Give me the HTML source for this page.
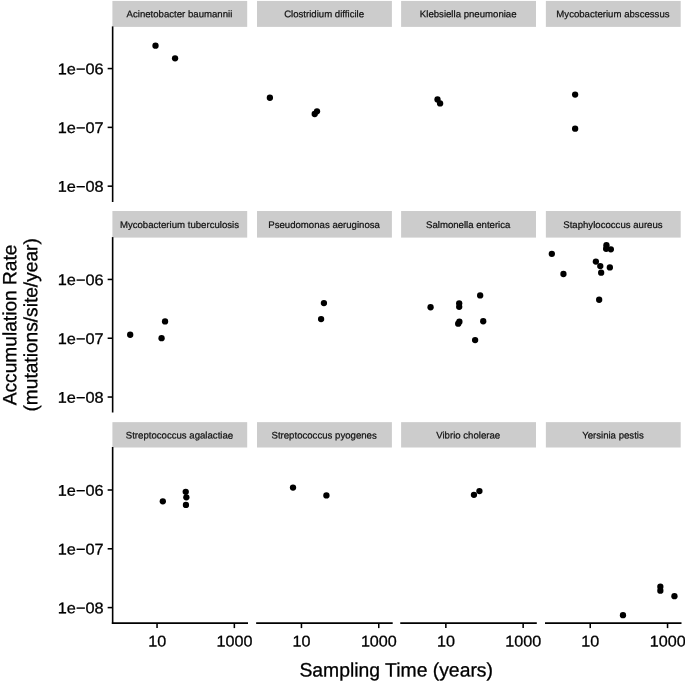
<!DOCTYPE html>
<html lang="en"><head><meta charset="utf-8"><title>Accumulation Rate vs Sampling Time</title>
<style>html,body{margin:0;padding:0;background:#fff}body{width:685px;height:681px;overflow:hidden}svg{display:block;will-change:transform}text{font-family:'Liberation Sans', sans-serif;text-rendering:geometricPrecision;fill:#000;stroke:#000;stroke-width:0.3px}.st{fill:#111;stroke:#111;stroke-width:0.22px}</style></head><body>
<svg role="img" aria-label="Accumulation rate versus sampling time, faceted by species" width="685" height="681" viewBox="0 0 685 681">
<rect width="685" height="681" fill="#fff"/>
<!-- row 1 -->
<rect x="112.40" y="0.92" width="134.80" height="25.98" fill="#cccccc"/>
<text class="st" transform="translate(179.45,17.20) rotate(0.03)" font-size="9.62" text-anchor="middle">Acinetobacter baumannii</text>
<rect x="257.00" y="0.92" width="134.90" height="25.98" fill="#cccccc"/>
<text class="st" transform="translate(324.10,17.20) rotate(0.03)" font-size="9.62" text-anchor="middle">Clostridium difficile</text>
<rect x="401.10" y="0.92" width="134.90" height="25.98" fill="#cccccc"/>
<text class="st" transform="translate(468.20,17.20) rotate(0.03)" font-size="9.62" text-anchor="middle">Klebsiella pneumoniae</text>
<rect x="545.85" y="0.92" width="134.85" height="25.98" fill="#cccccc"/>
<text class="st" transform="translate(612.93,17.20) rotate(0.03)" font-size="9.62" text-anchor="middle">Mycobacterium abscessus</text>
<line x1="112.65" y1="26.40" x2="112.65" y2="202.00" stroke="#000" stroke-width="1.60"/>
<line x1="107.65" y1="68.57" x2="112.65" y2="68.57" stroke="#000" stroke-width="1.55"/>
<text transform="translate(103.60,74.27) rotate(0.03) scale(1.020,0.970)" font-size="16" text-anchor="end">1e−06</text>
<line x1="107.65" y1="127.37" x2="112.65" y2="127.37" stroke="#000" stroke-width="1.55"/>
<text transform="translate(103.60,133.07) rotate(0.03) scale(1.020,0.970)" font-size="16" text-anchor="end">1e−07</text>
<line x1="107.65" y1="186.17" x2="112.65" y2="186.17" stroke="#000" stroke-width="1.55"/>
<text transform="translate(103.60,191.87) rotate(0.03) scale(1.020,0.970)" font-size="16" text-anchor="end">1e−08</text>
<!-- row 2 -->
<rect x="112.40" y="211.00" width="134.80" height="26.60" fill="#cccccc"/>
<text class="st" transform="translate(179.45,228.00) rotate(0.03)" font-size="9.62" text-anchor="middle">Mycobacterium tuberculosis</text>
<rect x="257.00" y="211.00" width="134.90" height="26.60" fill="#cccccc"/>
<text class="st" transform="translate(324.10,228.00) rotate(0.03)" font-size="9.62" text-anchor="middle">Pseudomonas aeruginosa</text>
<rect x="401.10" y="211.00" width="134.90" height="26.60" fill="#cccccc"/>
<text class="st" transform="translate(468.20,228.00) rotate(0.03)" font-size="9.62" text-anchor="middle">Salmonella enterica</text>
<rect x="545.85" y="211.00" width="134.85" height="26.60" fill="#cccccc"/>
<text class="st" transform="translate(612.93,228.00) rotate(0.03)" font-size="9.62" text-anchor="middle">Staphylococcus aureus</text>
<line x1="112.65" y1="237.10" x2="112.65" y2="412.50" stroke="#000" stroke-width="1.60"/>
<line x1="107.65" y1="279.44" x2="112.65" y2="279.44" stroke="#000" stroke-width="1.55"/>
<text transform="translate(103.60,285.14) rotate(0.03) scale(1.020,0.970)" font-size="16" text-anchor="end">1e−06</text>
<line x1="107.65" y1="338.24" x2="112.65" y2="338.24" stroke="#000" stroke-width="1.55"/>
<text transform="translate(103.60,343.94) rotate(0.03) scale(1.020,0.970)" font-size="16" text-anchor="end">1e−07</text>
<line x1="107.65" y1="397.04" x2="112.65" y2="397.04" stroke="#000" stroke-width="1.55"/>
<text transform="translate(103.60,402.74) rotate(0.03) scale(1.020,0.970)" font-size="16" text-anchor="end">1e−08</text>
<!-- row 3 -->
<rect x="112.40" y="422.15" width="134.80" height="25.35" fill="#cccccc"/>
<text class="st" transform="translate(179.45,438.60) rotate(0.03)" font-size="9.62" text-anchor="middle">Streptococcus agalactiae</text>
<rect x="257.00" y="422.15" width="134.90" height="25.35" fill="#cccccc"/>
<text class="st" transform="translate(324.10,438.60) rotate(0.03)" font-size="9.62" text-anchor="middle">Streptococcus pyogenes</text>
<rect x="401.10" y="422.15" width="134.90" height="25.35" fill="#cccccc"/>
<text class="st" transform="translate(468.20,438.60) rotate(0.03)" font-size="9.62" text-anchor="middle">Vibrio cholerae</text>
<rect x="545.85" y="422.15" width="134.85" height="25.35" fill="#cccccc"/>
<text class="st" transform="translate(612.93,438.60) rotate(0.03)" font-size="9.62" text-anchor="middle">Yersinia pestis</text>
<line x1="112.65" y1="447.00" x2="112.65" y2="623.90" stroke="#000" stroke-width="1.60"/>
<line x1="107.65" y1="490.00" x2="112.65" y2="490.00" stroke="#000" stroke-width="1.55"/>
<text transform="translate(103.60,495.70) rotate(0.03) scale(1.020,0.970)" font-size="16" text-anchor="end">1e−06</text>
<line x1="107.65" y1="548.80" x2="112.65" y2="548.80" stroke="#000" stroke-width="1.55"/>
<text transform="translate(103.60,554.50) rotate(0.03) scale(1.020,0.970)" font-size="16" text-anchor="end">1e−07</text>
<line x1="107.65" y1="607.60" x2="112.65" y2="607.60" stroke="#000" stroke-width="1.55"/>
<text transform="translate(103.60,613.30) rotate(0.03) scale(1.020,0.970)" font-size="16" text-anchor="end">1e−08</text>
<!-- x axes -->
<line x1="111.85" y1="623.10" x2="248.00" y2="623.10" stroke="#000" stroke-width="1.60"/>
<line x1="157.05" y1="623.10" x2="157.05" y2="628.10" stroke="#000" stroke-width="1.55"/>
<text transform="translate(157.15,646.60) rotate(0.03) scale(1.010,0.970)" font-size="16" text-anchor="middle">10</text>
<line x1="234.35" y1="623.10" x2="234.35" y2="628.10" stroke="#000" stroke-width="1.55"/>
<text transform="translate(234.45,646.60) rotate(0.03) scale(1.010,0.970)" font-size="16" text-anchor="middle">1000</text>
<line x1="256.15" y1="623.10" x2="392.70" y2="623.10" stroke="#000" stroke-width="1.60"/>
<line x1="301.45" y1="623.10" x2="301.45" y2="628.10" stroke="#000" stroke-width="1.55"/>
<text transform="translate(301.55,646.60) rotate(0.03) scale(1.010,0.970)" font-size="16" text-anchor="middle">10</text>
<line x1="378.75" y1="623.10" x2="378.75" y2="628.10" stroke="#000" stroke-width="1.55"/>
<text transform="translate(378.85,646.60) rotate(0.03) scale(1.010,0.970)" font-size="16" text-anchor="middle">1000</text>
<line x1="400.25" y1="623.10" x2="536.80" y2="623.10" stroke="#000" stroke-width="1.60"/>
<line x1="445.85" y1="623.10" x2="445.85" y2="628.10" stroke="#000" stroke-width="1.55"/>
<text transform="translate(445.95,646.60) rotate(0.03) scale(1.010,0.970)" font-size="16" text-anchor="middle">10</text>
<line x1="523.15" y1="623.10" x2="523.15" y2="628.10" stroke="#000" stroke-width="1.55"/>
<text transform="translate(523.25,646.60) rotate(0.03) scale(1.010,0.970)" font-size="16" text-anchor="middle">1000</text>
<line x1="545.00" y1="623.10" x2="681.50" y2="623.10" stroke="#000" stroke-width="1.60"/>
<line x1="590.25" y1="623.10" x2="590.25" y2="628.10" stroke="#000" stroke-width="1.55"/>
<text transform="translate(590.35,646.60) rotate(0.03) scale(1.010,0.970)" font-size="16" text-anchor="middle">10</text>
<line x1="667.55" y1="623.10" x2="667.55" y2="628.10" stroke="#000" stroke-width="1.55"/>
<text transform="translate(667.65,646.60) rotate(0.03) scale(1.010,0.970)" font-size="16" text-anchor="middle">1000</text>
<!-- points -->
<circle cx="155.50" cy="45.70" r="3.15" fill="#000"/>
<circle cx="175.07" cy="58.37" r="3.15" fill="#000"/>
<circle cx="269.87" cy="97.75" r="3.15" fill="#000"/>
<circle cx="314.70" cy="114.00" r="3.15" fill="#000"/>
<circle cx="317.00" cy="111.30" r="3.15" fill="#000"/>
<circle cx="437.50" cy="99.50" r="3.15" fill="#000"/>
<circle cx="440.10" cy="103.40" r="3.15" fill="#000"/>
<circle cx="575.13" cy="94.54" r="3.15" fill="#000"/>
<circle cx="575.13" cy="128.70" r="3.15" fill="#000"/>
<circle cx="130.20" cy="334.74" r="3.15" fill="#000"/>
<circle cx="161.56" cy="338.13" r="3.15" fill="#000"/>
<circle cx="165.05" cy="321.38" r="3.15" fill="#000"/>
<circle cx="323.92" cy="303.08" r="3.15" fill="#000"/>
<circle cx="321.10" cy="319.03" r="3.15" fill="#000"/>
<circle cx="430.58" cy="307.26" r="3.15" fill="#000"/>
<circle cx="459.20" cy="303.35" r="3.15" fill="#000"/>
<circle cx="459.20" cy="306.85" r="3.15" fill="#000"/>
<circle cx="480.16" cy="295.39" r="3.15" fill="#000"/>
<circle cx="459.40" cy="321.70" r="3.15" fill="#000"/>
<circle cx="458.20" cy="323.70" r="3.15" fill="#000"/>
<circle cx="483.22" cy="321.25" r="3.15" fill="#000"/>
<circle cx="475.11" cy="340.05" r="3.15" fill="#000"/>
<circle cx="551.82" cy="253.80" r="3.15" fill="#000"/>
<circle cx="563.45" cy="274.00" r="3.15" fill="#000"/>
<circle cx="595.87" cy="261.54" r="3.15" fill="#000"/>
<circle cx="600.28" cy="266.07" r="3.15" fill="#000"/>
<circle cx="601.16" cy="272.70" r="3.15" fill="#000"/>
<circle cx="609.85" cy="267.42" r="3.15" fill="#000"/>
<circle cx="599.17" cy="299.75" r="3.15" fill="#000"/>
<circle cx="606.44" cy="245.22" r="3.15" fill="#000"/>
<circle cx="606.15" cy="248.74" r="3.15" fill="#000"/>
<circle cx="610.85" cy="249.33" r="3.15" fill="#000"/>
<circle cx="162.82" cy="501.35" r="3.15" fill="#000"/>
<circle cx="185.73" cy="491.79" r="3.15" fill="#000"/>
<circle cx="186.35" cy="497.34" r="3.15" fill="#000"/>
<circle cx="185.94" cy="504.94" r="3.15" fill="#000"/>
<circle cx="293.02" cy="487.54" r="3.15" fill="#000"/>
<circle cx="326.42" cy="495.46" r="3.15" fill="#000"/>
<circle cx="473.96" cy="494.78" r="3.15" fill="#000"/>
<circle cx="479.43" cy="491.08" r="3.15" fill="#000"/>
<circle cx="622.98" cy="615.18" r="3.15" fill="#000"/>
<circle cx="660.35" cy="586.75" r="3.15" fill="#000"/>
<circle cx="660.35" cy="590.70" r="3.15" fill="#000"/>
<circle cx="674.45" cy="596.14" r="3.15" fill="#000"/>
<!-- axis titles -->
<text transform="translate(396.20,676.50) rotate(0.03)" font-size="19.35" text-anchor="middle">Sampling Time (years)</text>
<text transform="translate(16.20,324.90) rotate(-89.97)" font-size="19.15" text-anchor="middle">Accumulation Rate</text>
<text transform="translate(37.20,324.90) rotate(-89.97)" font-size="19.15" text-anchor="middle">(mutations/site/year)</text>
</svg></body></html>
